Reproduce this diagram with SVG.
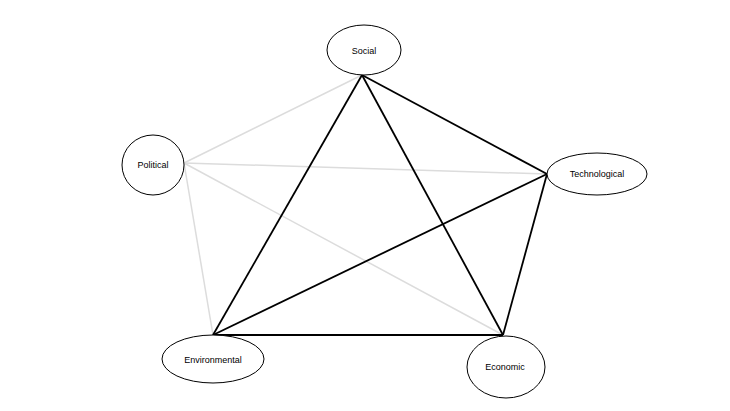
<svg xmlns="http://www.w3.org/2000/svg" width="730" height="411" viewBox="0 0 730 411">
<style>
.node{fill:#fff;stroke:#000;stroke-width:1}
.lbl{font-family:"Liberation Sans",Arial,sans-serif;font-size:9px;fill:#000;text-anchor:middle;dominant-baseline:central}
.strong{stroke:#000;stroke-width:1.8;fill:none}
.weak{stroke:#dcdcdc;stroke-width:1.5;fill:none}
</style>
<rect width="730" height="411" fill="#fff"/>
<g id="connectors">
<line class="weak" x1="184" y1="163" x2="362" y2="75"/>
<line class="weak" x1="184" y1="163" x2="547" y2="174"/>
<line class="weak" x1="184" y1="163" x2="213" y2="335"/>
<line class="weak" x1="184" y1="163" x2="503" y2="335"/>
<line class="strong" x1="362" y1="75" x2="547" y2="174"/>
<line class="strong" x1="362" y1="75" x2="213" y2="335"/>
<line class="strong" x1="362" y1="75" x2="503" y2="335"/>
<line class="strong" x1="547" y1="174" x2="213" y2="335"/>
<line class="strong" x1="547" y1="174" x2="503" y2="335"/>
<line class="strong" x1="213" y1="335" x2="503" y2="335"/>
</g>
<g id="social"><ellipse class="node" cx="364" cy="50" rx="37" ry="25"/><text class="lbl" x="364" y="51">Social</text></g>
<g id="political"><ellipse class="node" cx="153" cy="165" rx="31" ry="30"/><text class="lbl" x="153" y="165">Political</text></g>
<g id="technological"><ellipse class="node" cx="597" cy="174" rx="50" ry="21"/><text class="lbl" x="597" y="174">Technological</text></g>
<g id="environmental"><ellipse class="node" cx="213" cy="359" rx="51" ry="24"/><text class="lbl" x="213" y="360">Environmental</text></g>
<g id="economic"><ellipse class="node" cx="506" cy="367" rx="39" ry="31"/><text class="lbl" x="505" y="367">Economic</text></g>
</svg>
